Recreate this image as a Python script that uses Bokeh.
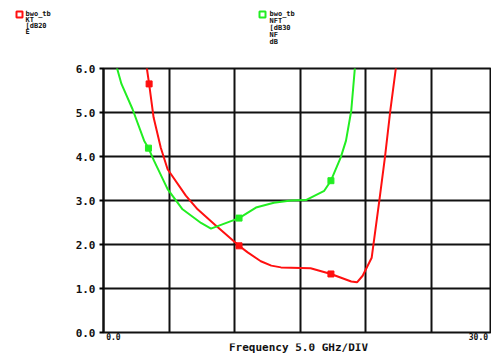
from bokeh.plotting import figure
from bokeh.layouts import column
from bokeh.models import FixedTicker, PrintfTickFormatter, Range1d
from bokeh.core.properties import value
from bokeh.embed import file_html
from bokeh.resources import INLINE

# Data (frequency in GHz, values in dB)
red_x = [3.2, 3.31, 3.48, 3.82, 4.37, 4.89, 6.28, 7.18, 8.5, 10.34, 11.0, 12.0, 12.8, 13.54, 15.8, 17.35, 18.9, 19.34, 19.77, 20.46, 21.04, 21.47, 21.88, 22.31, 22.4]
red_y = [6.3, 6.0, 5.65, 4.89, 4.2, 3.71, 3.11, 2.80, 2.45, 1.97, 1.82, 1.62, 1.52, 1.48, 1.46, 1.33, 1.16, 1.14, 1.29, 1.70, 2.99, 3.98, 5.04, 6.02, 6.3]
green_x = [0.95, 1.02, 1.37, 2.21, 3.1, 3.43, 3.86, 4.89, 6.03, 7.44, 8.2, 10.34, 11.63, 13.0, 14.3, 15.44, 16.84, 17.35, 18.1, 18.5, 18.9, 19.18, 19.23]
green_y = [6.2, 6.02, 5.65, 5.08, 4.36, 4.19, 3.9, 3.26, 2.80, 2.49, 2.36, 2.6, 2.84, 2.95, 3.0, 3.01, 3.22, 3.45, 3.98, 4.36, 5.04, 6.02, 6.2]
red_mx = [3.48, 10.34, 17.35]
red_my = [5.65, 1.97, 1.33]
green_mx = [3.43, 10.34, 17.35]
green_my = [4.19, 2.6, 3.45]
y_ticks = [0, 1, 2, 3, 4, 5, 6]
x_ticks = [0, 5, 10, 15, 20, 25, 30]
x_label_pos = [0.76, 28.6]
x_labels = ["0.0", "30.0"]
legend1 = ["bwo_tb", "KT", "[dB20", "E"]
legend2 = ["bwo_tb", "NFT", "[dB30", "NF", "dB"]
x_title = "Frequency 5.0 GHz/DIV"

RED = "#ff1010"
GREEN = "#22ee22"
INK = "#111111"
FONT = "DejaVu Sans Mono"
W = 491
TOP_H = 59
MAIN_H = 283
BOT_H = 353 - TOP_H - MAIN_H


def strip(height):
    f = figure(width=W, height=height, output_backend="svg", toolbar_location=None,
               x_range=Range1d(0, W), y_range=Range1d(height, 0),
               min_border=0, min_border_left=0, min_border_right=0,
               min_border_top=0, min_border_bottom=0)
    f.axis.visible = False
    f.grid.visible = False
    f.outline_line_color = None
    f.background_fill_color = "white"
    f.border_fill_color = "white"
    try:
        f.frame_align = False
    except Exception:
        pass
    return f


# ---- header strip with the two trace legends (pixel coordinates, y downwards)
hdr = strip(TOP_H)
leg1_x, leg1_y0, leg1_dy = 25, 13, 6
leg2_x, leg2_y0, leg2_dy = 269, 13, 7.2
hdr.text(x=[leg1_x] * len(legend1), y=[leg1_y0 + leg1_dy * i for i in range(len(legend1))],
         text=legend1, text_font=value(FONT), text_font_style="bold",
         text_font_size="7px", text_baseline="middle", text_align="left", text_color=INK)
hdr.text(x=[leg2_x] * len(legend2), y=[leg2_y0 + leg2_dy * i for i in range(len(legend2))],
         text=legend2, text_font=value(FONT), text_font_style="bold",
         text_font_size="7px", text_baseline="middle", text_align="left", text_color=INK)
hdr.scatter(x=[leg1_x - 6], y=[leg1_y0 + 1], marker="square", size=6,
            fill_color="white", line_color=RED, line_width=2)
hdr.scatter(x=[leg2_x - 7], y=[leg2_y0 + 1], marker="square", size=6,
            fill_color="white", line_color=GREEN, line_width=2)

# ---- main chart
p = figure(width=W, height=MAIN_H, output_backend="svg", toolbar_location=None,
           x_range=Range1d(0, 29.6), y_range=Range1d(0, 6),
           min_border_left=103, min_border_top=9, min_border_bottom=10, min_border_right=0)
p.background_fill_color = "white"
p.border_fill_color = "white"
p.outline_line_color = INK
p.outline_line_width = 2
try:
    p.frame_align = False
except Exception:
    pass

p.xgrid.ticker = FixedTicker(ticks=x_ticks)
p.ygrid.ticker = FixedTicker(ticks=y_ticks)
for g in (p.xgrid, p.ygrid):
    g.grid_line_color = INK
    g.grid_line_width = 2
    g.grid_line_alpha = 1.0

ya = p.yaxis[0]
ya.ticker = FixedTicker(ticks=y_ticks)
ya.formatter = PrintfTickFormatter(format="%.1f")
ya.axis_line_width = 2
ya.axis_line_color = INK
ya.major_tick_out = 4
ya.major_tick_in = 0
ya.major_tick_line_width = 2
ya.minor_tick_line_color = None
ya.major_label_standoff = 4
ya.major_label_text_font = FONT
ya.major_label_text_font_style = "bold"
ya.major_label_text_font_size = "11px"
ya.major_label_text_color = INK

xa = p.xaxis[0]
xa.ticker = FixedTicker(ticks=x_label_pos)
xa.major_label_overrides = {x_label_pos[0]: x_labels[0], x_label_pos[1]: x_labels[1]}
xa.axis_line_color = None
xa.major_tick_line_color = None
xa.minor_tick_line_color = None
xa.major_tick_out = 0
xa.major_tick_in = 0
xa.major_label_standoff = 0
xa.major_label_text_font = FONT
xa.major_label_text_font_style = "bold"
xa.major_label_text_font_size = "8px"
xa.major_label_text_color = INK

p.line(red_x, red_y, line_color=RED, line_width=2)
p.line(green_x, green_y, line_color=GREEN, line_width=2)
p.scatter(red_mx, red_my, marker="square", size=6, fill_color=RED, line_color=RED)
p.scatter(green_mx, green_my, marker="square", size=6, fill_color=GREEN, line_color=GREEN)

# ---- footer strip: axis title (pixel coordinates, y downwards)
ftr = strip(BOT_H)
ftr.text(x=[298], y=[4], text=[x_title], text_font=value(FONT), text_font_style="bold",
         text_font_size="11px", text_baseline="middle", text_align="center", text_color=INK)

layout = column(hdr, p, ftr, spacing=0)
open("out.html", "w").write(file_html(layout, INLINE))
